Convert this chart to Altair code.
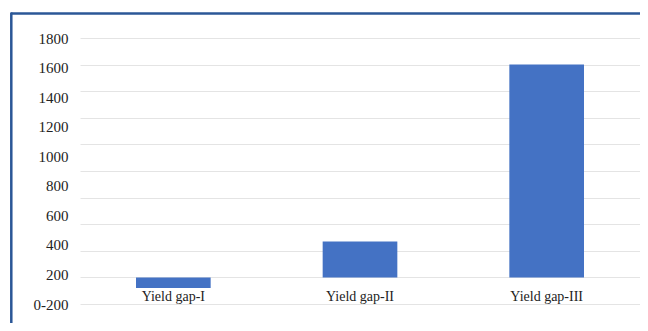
import altair as alt
import pandas as pd

# ---- data ----
categories = ["Yield gap-I", "Yield gap-II", "Yield gap-III"]
values = [-80, 270, 1600]

grid_ticks = [-200, 0, 200, 400, 600, 800, 1000, 1200, 1400, 1600, 1800]
label_ticks = [0, 200, 400, 600, 800, 1000, 1200, 1400, 1600, 1800]
label_texts = ["0-200", "200", "400", "600", "800", "1000", "1200", "1400", "1600", "1800"]

bars_df = pd.DataFrame({"gap": categories, "value": values})
labels_df = pd.DataFrame({"tick": label_ticks, "text": label_texts})
one_df = pd.DataFrame({"a": [0]})

FONT = "Liberation Serif"
BLUE = "#4472C4"
FRAME = "#2B5797"

label_expr = "{" + ",".join(f"'{v}':'{t}'" for v, t in zip(label_ticks, label_texts)) + "}[datum.value + '']"

bars = alt.Chart(bars_df).mark_bar(color=BLUE).encode(
    x=alt.X(
        "gap:N",
        sort=categories,
        title=None,
        scale=alt.Scale(paddingInner=0.6, paddingOuter=0.3),
        axis=alt.Axis(
            labelAngle=0, domain=False, ticks=False, tickSize=0,
            labelPadding=-4, labelBaseline="alphabetic",
            labelFont=FONT, labelFontSize=14, labelColor="#222222",
        ),
    ),
    y=alt.Y(
        "value:Q",
        scale=alt.Scale(domain=[-200, 1800], nice=False, zero=False),
        axis=alt.Axis(
            orient="right", values=grid_ticks, labels=False, ticks=False,
            domain=False, grid=True, gridColor="#E4E4E4", gridWidth=1, title=None,
        ),
    ),
)

label_layer = alt.Chart(labels_df).mark_point(opacity=0).encode(
    y=alt.Y(
        "tick:Q",
        scale=alt.Scale(domain=[0, 1800], nice=False),
        axis=alt.Axis(
            orient="left", values=label_ticks, labelExpr=label_expr, format="d",
            grid=False, ticks=False, domain=False, labelPadding=12,
            labelFont=FONT, labelFontSize=15, labelColor="#222222", title=None,
        ),
    ),
)

frame_top = alt.Chart(one_df).mark_rule(color=FRAME, strokeWidth=2.5).encode(
    x=alt.value(-69), x2=alt.value(560), y=alt.value(-24.5)
)
frame_left = alt.Chart(one_df).mark_rule(color=FRAME, strokeWidth=2.5).encode(
    x=alt.value(-68.7), y=alt.value(-25.5), y2=alt.value(300)
)

chart = (
    alt.layer(bars, label_layer, frame_top, frame_left)
    .resolve_scale(y="independent")
    .properties(
        width=560,
        height=266,
        autosize=alt.AutoSizeParams(type="none"),
        padding={"left": 72, "top": 30, "right": 0, "bottom": 19},
        background="white",
    )
    .configure_view(strokeWidth=0)
)

chart.save("out.html", embed_options={"renderer": "svg", "actions": False})
